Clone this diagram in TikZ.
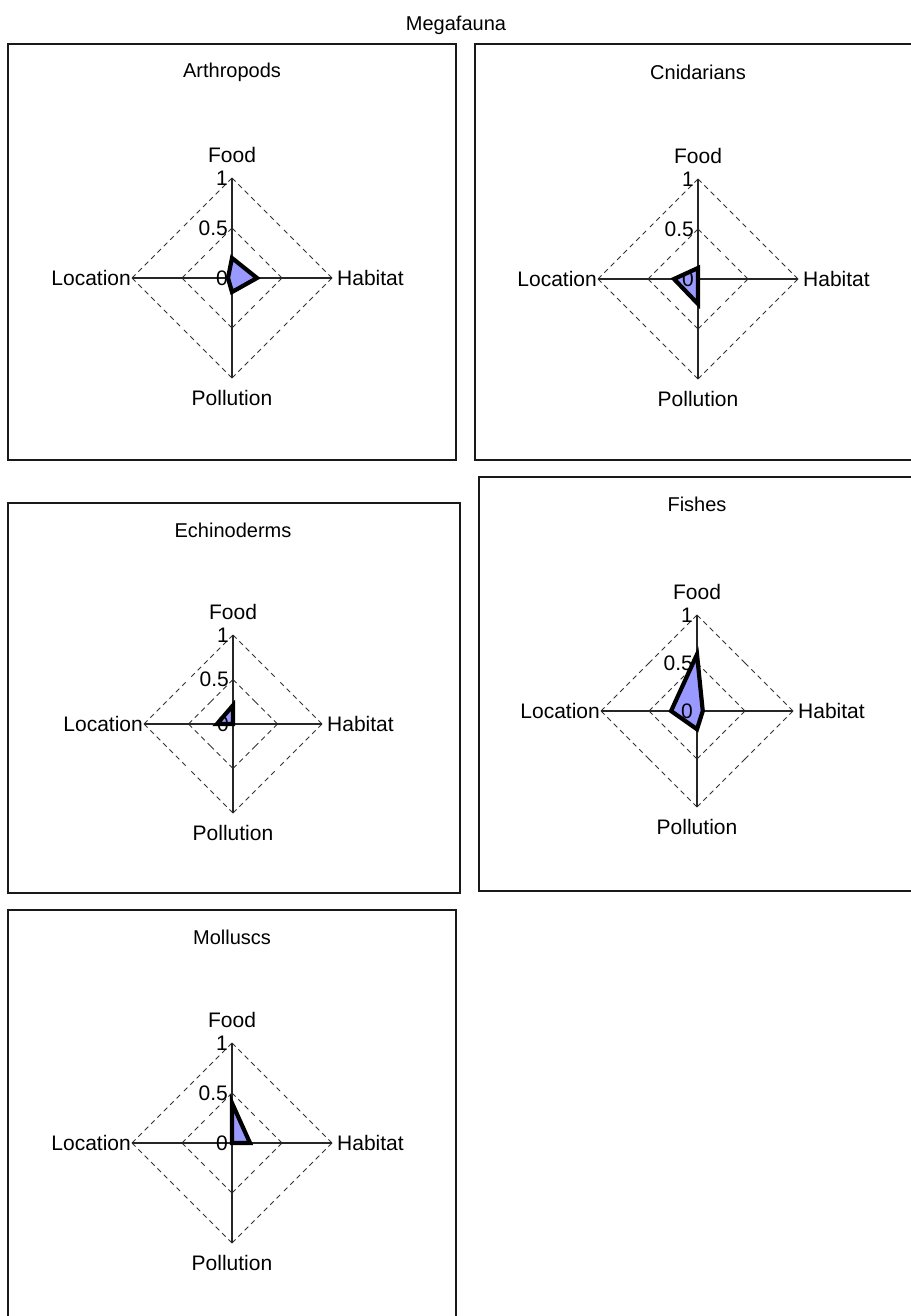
\documentclass[tikz,border=0pt]{standalone}
\usepackage{fontspec}
\setmainfont{Liberation Sans}
\usetikzlibrary{calc}
\definecolor{polyfill}{HTML}{9999FF}
\tikzset{
  framebox/.style={draw=black!90, line width=2pt, fill=white},
  axisline/.style={line width=1.2pt, draw=black!85},
  gridline/.style={dash pattern=on 5pt off 4pt, line width=0.8pt, draw=black!80},
  polyline/.style={draw=black, line width=4.2pt, line join=miter, fill=polyfill},
  axislabel/.style={font=\fontsize{21}{25}\selectfont, inner sep=0pt},
  ticklabel/.style={font=\fontsize{21}{25}\selectfont, inner sep=0pt, anchor=east},
  titlelabel/.style={font=\fontsize{20}{24}\selectfont, inner sep=0pt},
}
% #1 name, #2 cx, #3 cy, #4 r, #5 Food, #6 Habitat, #7 Pollution, #8 Location, #9 title
\newcommand\radarchart[9]{%
  \coordinate (#1-c) at (#2,#3);
  \coordinate (#1-t) at (#2,#3-#4);
  \coordinate (#1-b) at (#2,#3+#4);
  \coordinate (#1-l) at (#2-#4,#3);
  \coordinate (#1-r) at (#2+#4,#3);
  \begin{scope}[shift={(#1-c)}]
    \foreach \lv in {0.5,1}{
      \foreach \an in {0,90,180,270}{
        \draw[gridline] (\an:\lv*#4) -- (\an+45:0.7071*\lv*#4);
        \draw[gridline] (\an:\lv*#4) -- (\an-45:0.7071*\lv*#4);
      }
    }
  \end{scope}
  \draw[axisline] (#1-t) -- (#1-b);
  \draw[axisline] (#1-l) -- (#1-r);
  \coordinate (#1-pf) at (#2,#3-#5*#4);
  \coordinate (#1-ph) at (#2+#6*#4,#3);
  \coordinate (#1-pp) at (#2,#3+#7*#4);
  \coordinate (#1-pl) at (#2-#8*#4,#3);
  \draw[polyline] (#1-pf) -- (#1-ph) -- (#1-pp) -- (#1-pl) -- cycle;
  \node[ticklabel] (#1-one) at (#2-4,#3-#4) {1};
  \node[ticklabel] (#1-half) at (#2-4,#3-0.5*#4) {0.5};
  \node[ticklabel] (#1-zero) at (#2-4,#3) {0};
  \node[axislabel] (#1-food) at (#2,#3-#4-23) {Food};
  \node[axislabel] (#1-poll) at (#2,#3+#4+20) {Pollution};
  \node[axislabel, anchor=east] (#1-loc) at (#2-#4-1,#3) {Location};
  \node[axislabel, anchor=west] (#1-hab) at (#2+#4+5,#3) {Habitat};
}
\begin{document}
\begin{tikzpicture}[x=1pt,y=-1pt]
  \useasboundingbox (0,0) rectangle (910,1316);
  \node[titlelabel] (mega) at (456,25) {Megafauna};
  \draw[framebox] (8,44) rectangle (456,460);
  \draw[framebox] (475,44) rectangle (920,460);
  \draw[framebox] (8,503) rectangle (460,893);
  \draw[framebox] (479,477) rectangle (920,891);
  \draw[framebox] (8,910) rectangle (456,1330);
  \node[titlelabel] (arth-title) at (232,72) {Arthropods};
  \node[titlelabel] (cnid-title) at (698,72) {Cnidarians};
  \node[titlelabel] (echi-title) at (233,530) {Echinoderms};
  \node[titlelabel] (fish-title) at (697,504) {Fishes};
  \node[titlelabel] (moll-title) at (232,937) {Molluscs};
  \radarchart{arth}{232}{278}{100}{0.2}{0.25}{0.14}{0.04}{Arthropods}
  \radarchart{cnid}{698}{279}{100}{0.11}{0.0}{0.25}{0.24}{Cnidarians}
  \radarchart{echi}{233}{724}{89}{0.21}{0.0}{0.0}{0.18}{Echinoderms}
  \radarchart{fish}{697}{711}{96}{0.59}{0.06}{0.19}{0.27}{Fishes}
  \radarchart{moll}{232}{1143}{100}{0.4}{0.18}{0.0}{0.0}{Molluscs}
\end{tikzpicture}
\end{document}
